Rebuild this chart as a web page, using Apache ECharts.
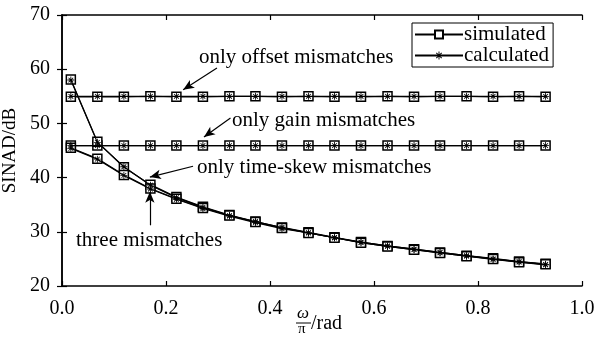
<!DOCTYPE html>
<html>
<head>
<meta charset="utf-8">
<script src="https://cdn.jsdelivr.net/npm/echarts@6/dist/echarts.min.js"></script>
<style>
  html, body { margin: 0; padding: 0; background: #fff; }
  #chart { width: 596px; height: 337px; }
</style>
</head>
<body>
<div id="chart"></div>
<script>
// 横轴：ω/π
const xValues = [0.017, 0.068, 0.119, 0.170, 0.220, 0.271, 0.322, 0.372, 0.423, 0.474,
  0.524, 0.575, 0.626, 0.677, 0.727, 0.778, 0.829, 0.879, 0.930];

const offsetSim = [54.9, 54.9, 54.9, 55.0, 54.9, 54.9, 55.0, 55.0, 54.9, 55.0, 54.9, 54.9, 55.0, 54.9, 55.0, 55.0, 54.9, 55.0, 54.9];
const offsetCalc = [55.0, 55.0, 55.0, 55.0, 55.0, 55.0, 55.0, 55.0, 55.0, 55.0, 55.0, 55.0, 55.0, 55.0, 55.0, 55.0, 55.0, 55.0, 55.0];
const gainSim = [45.9, 45.9, 45.9, 45.9, 45.9, 45.9, 45.9, 45.9, 45.9, 45.9, 45.9, 45.9, 45.9, 45.9, 45.9, 45.9, 45.9, 45.9, 45.9];
const gainCalc = [45.9, 45.9, 45.9, 45.9, 45.9, 45.9, 45.9, 45.9, 45.9, 45.9, 45.9, 45.9, 45.9, 45.9, 45.9, 45.9, 45.9, 45.9, 45.9];
const skewSim = [58.1, 46.6, 41.9, 38.7, 36.4, 34.6, 33.1, 31.9, 30.8, 29.9, 29.0, 28.1, 27.4, 26.8, 26.2, 25.6, 25.1, 24.5, 24.1];
const skewCalc = [58.0, 46.5, 42.0, 38.6, 36.3, 34.5, 33.0, 31.9, 30.8, 29.8, 28.9, 28.1, 27.4, 26.8, 26.2, 25.6, 25.0, 24.5, 24.0];
const threeSim = [45.5, 43.5, 40.5, 38.0, 36.1, 34.4, 33.0, 31.8, 30.7, 29.8, 28.9, 28.0, 27.3, 26.7, 26.1, 25.5, 25.0, 24.4, 24.0];
const threeCalc = [45.4, 43.4, 40.4, 37.9, 36.0, 34.3, 32.9, 31.7, 30.6, 29.8, 28.9, 28.0, 27.3, 26.7, 26.1, 25.5, 24.9, 24.4, 23.9];

const xTicks = [0, 0.2, 0.4, 0.6, 0.8, 1.0];
const yTicks = [20, 30, 40, 50, 60, 70];

// 注释箭头（数据坐标）：[起点, 终点]
const arrows = [
  [[0.298, 60.2], [0.233, 56.2]],
  [[0.324, 51.0], [0.273, 47.5]],
  [[0.252, 42.1], [0.169, 40.1]],
  [[0.169, 31.2], [0.169, 37.4]]
];

const FONT = 'Liberation Serif';
const STAR = 'path://M4.4,0h1.2v10h-1.2z M0,4.4h10v1.2h-10z M1.2,2.05l0.85,-0.85 6.75,6.75 -0.85,0.85z M7.95,1.2l0.85,0.85 -6.75,6.75 -0.85,-0.85z';

const pairs = ys => xValues.map((x, i) => [x, ys[i]]);

function simSeries(ys, extra) {
  return Object.assign({
    name: 'simulated',
    type: 'line',
    data: pairs(ys),
    symbol: 'rect',
    symbolSize: 9,
    itemStyle: { color: '#fff', borderColor: '#000', borderWidth: 1.5 },
    lineStyle: { color: '#000', width: 1.2 },
    z: 3
  }, extra || {});
}

function calcSeries(ys) {
  return {
    name: 'calculated',
    type: 'line',
    data: pairs(ys),
    symbol: STAR,
    symbolSize: 7,
    itemStyle: { color: '#000' },
    lineStyle: { color: '#000', width: 1.2 },
    z: 4
  };
}

const chart = echarts.init(document.getElementById('chart'), null, { renderer: 'canvas' });

const axisCommon = {
  type: 'value',
  axisLine: { show: true, lineStyle: { color: '#000', width: 1.5 } },
  axisTick: { show: true, inside: true, length: 5, lineStyle: { color: '#000', width: 1.2 } },
  splitLine: { show: false }
};

const annoFont = '21px "Liberation Serif"';

chart.setOption({
  animation: false,
  backgroundColor: '#fff',
  textStyle: { fontFamily: FONT, color: '#000' },
  grid: { left: 62, right: 14, top: 15, bottom: 51, containLabel: false, outerBoundsMode: 'none' },
  legend: {
    data: ['simulated', 'calculated'],
    orient: 'vertical',
    left: 412,
    top: 23,
    itemWidth: 48,
    itemHeight: 10,
    itemGap: 0,
    padding: [1, 4, 1, 2],
    borderColor: '#000',
    borderWidth: 1,
    backgroundColor: '#fff',
    textStyle: { fontFamily: FONT, fontSize: 21, lineHeight: 19, color: '#000', padding: [0, 0, 0, -4] }
  },
  xAxis: [
    Object.assign({}, axisCommon, {
      min: xTicks[0], max: xTicks[xTicks.length - 1], interval: 0.2,
      axisLabel: { fontFamily: FONT, fontSize: 20, color: '#000', margin: 13, formatter: v => v.toFixed(1) }
    }),
    Object.assign({}, axisCommon, {
      position: 'top', min: 0, max: 1, interval: 0.2, axisLabel: { show: false }
    })
  ],
  yAxis: [
    Object.assign({}, axisCommon, {
      min: yTicks[0], max: yTicks[yTicks.length - 1], interval: 10,
      name: 'SINAD/dB', nameLocation: 'middle', nameGap: 40, nameRotate: 90,
      nameTextStyle: { fontFamily: FONT, fontSize: 19, color: '#000' },
      axisLabel: { fontFamily: FONT, fontSize: 20, color: '#000', margin: 12 }
    }),
    Object.assign({}, axisCommon, {
      position: 'right', min: 20, max: 70, interval: 10, axisLabel: { show: false }
    })
  ],
  series: [
    simSeries(offsetSim, {
      markLine: {
        silent: true,
        symbol: ['none', 'arrow'],
        symbolSize: [7, 11],
        label: { show: false },
        lineStyle: { color: '#000', width: 1.2, type: 'solid' },
        data: arrows.map(a => [{ coord: a[0] }, { coord: a[1] }])
      }
    }),
    calcSeries(offsetCalc),
    simSeries(gainSim),
    calcSeries(gainCalc),
    simSeries(skewSim),
    calcSeries(skewCalc),
    simSeries(threeSim),
    calcSeries(threeCalc)
  ],
  graphic: [
    { type: 'text', left: 199, top: 47, style: { text: 'only offset mismatches', font: annoFont, fill: '#000' } },
    { type: 'text', left: 232, top: 110, style: { text: 'only gain mismatches', font: annoFont, fill: '#000' } },
    { type: 'text', left: 197, top: 157, style: { text: 'only time-skew mismatches', font: annoFont, fill: '#000' } },
    { type: 'text', left: 76, top: 230, style: { text: 'three mismatches', font: annoFont, fill: '#000' } },
    { type: 'text', left: 297, top: 305, style: { text: 'ω', font: 'italic 17px "Liberation Serif"', fill: '#000' } },
    { type: 'line', shape: { x1: 296, y1: 323, x2: 311, y2: 323 }, style: { stroke: '#000', lineWidth: 1 } },
    { type: 'text', left: 298, top: 322, style: { text: 'π', font: '15px "Liberation Serif"', fill: '#000' } },
    { type: 'text', left: 311, top: 314, style: { text: '/rad', font: '20px "Liberation Serif"', fill: '#000' } }
  ]
});
</script>
</body>
</html>
